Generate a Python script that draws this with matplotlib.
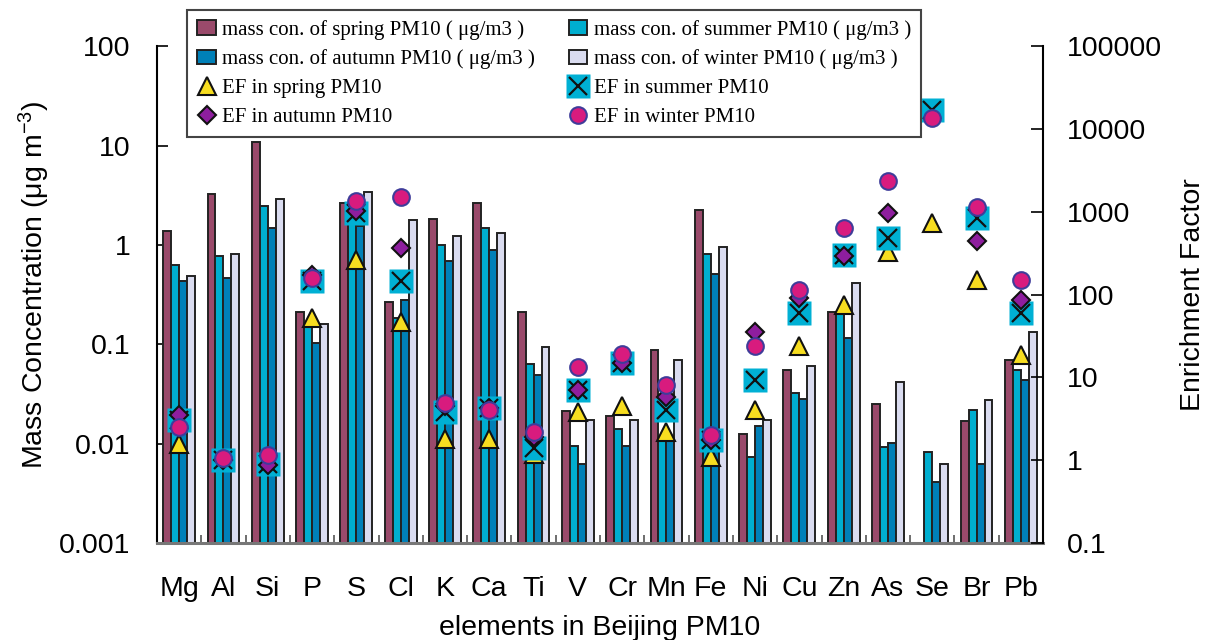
import numpy as np
import matplotlib
matplotlib.use("Agg")
import matplotlib.pyplot as plt
from matplotlib.ticker import FixedLocator, FuncFormatter, NullLocator

plt.rcParams['font.family'] = ['Liberation Sans', 'DejaVu Sans']
plt.rcParams['mathtext.fontset'] = 'custom'
plt.rcParams['mathtext.rm'] = 'Liberation Sans'
plt.rcParams['mathtext.default'] = 'rm'

nan = np.nan

# elements on the x axis
elements = ['Mg', 'Al', 'Si', 'P', 'S', 'Cl', 'K', 'Ca', 'Ti', 'V',
            'Cr', 'Mn', 'Fe', 'Ni', 'Cu', 'Zn', 'As', 'Se', 'Br', 'Pb']

# mass concentrations (ug/m3), left axis
conc_spring = [1.38, 3.3, 10.8, 0.214, 2.68, 0.266, 1.85, 2.68, 0.214, 0.0215,
               0.0188, 0.087, 2.25, 0.0124, 0.055, 0.214, 0.025, nan, 0.0169, 0.07]
conc_summer = [0.63, 0.78, 2.48, 0.165, 2.2, 0.185, 1.0, 1.49, 0.0635, 0.0095,
               0.0142, 0.011, 0.81, 0.0074, 0.0325, 0.206, 0.0093, 0.0082, 0.022, 0.055]
conc_autumn = [0.435, 0.47, 1.5, 0.103, 1.55, 0.28, 0.69, 0.89, 0.049, 0.0062,
               0.0095, 0.012, 0.51, 0.0152, 0.0285, 0.116, 0.0101, 0.0041, 0.0062, 0.044]
conc_winter = [0.49, 0.81, 2.9, 0.16, 3.4, 1.78, 1.23, 1.33, 0.095, 0.0175,
               0.0175, 0.07, 0.95, 0.0175, 0.06, 0.418, 0.0414, 0.0062, 0.0273, 0.132]

# enrichment factors, right axis
ef_spring = [1.59, 1.0, 0.95, 52, 266, 47.5, 1.83, 1.83, 1.2, 3.85,
             4.5, 2.2, 1.1, 4.0, 24, 75, 330, 730, 151, 18.7]
ef_summer = [3.05, 1.0, 0.91, 145, 980, 145, 3.85, 4.23, 1.39, 7.05,
             14.9, 4.03, 1.75, 9.3, 60, 305, 485, 17000, 855, 60]
ef_autumn = [3.5, 1.0, 0.87, 175, 1030, 369, 4.5, 4.3, 1.9, 7.0,
             14.9, 5.75, 1.75, 35.9, 91, 290, 980, nan, 443, 87]
ef_winter = [2.53, 1.05, 1.15, 159, 1350, 1500, 4.87, 4.03, 2.2, 13.5,
             19.2, 8.1, 2.0, 24, 115, 645, 2380, 13500, 1150, 151]

left_ticks = [0.001, 0.01, 0.1, 1, 10, 100]
right_ticks = [0.1, 1, 10, 100, 1000, 10000, 100000]

c_spring = '#9A4A6B'
c_summer = '#00AECF'
c_autumn = '#0080B8'
c_winter = '#DADCF0'

x = np.arange(len(elements))
w = 0.18
fs = 20.5

fig = plt.figure(figsize=(12.13, 6.4), dpi=100)
ax = fig.add_axes([157/1213, 1 - 543/640, (1043 - 157)/1213, (543 - 46.5)/640])

bar_kw = dict(width=w, bottom=0.001, edgecolor='#222222', linewidth=1.4, zorder=2)
b1 = ax.bar(x - 0.27, np.array(conc_spring) - 0.001, color=c_spring, **bar_kw)
b2 = ax.bar(x - 0.09, np.array(conc_summer) - 0.001, color=c_summer, **bar_kw)
b3 = ax.bar(x + 0.09, np.array(conc_autumn) - 0.001, color=c_autumn, **bar_kw)
b4 = ax.bar(x + 0.27, np.array(conc_winter) - 0.001, color=c_winter, **bar_kw)

ax.set_yscale('log')
ax.set_ylim(0.001, 100)
ax.set_xlim(-0.5, len(elements) - 0.5)
ax.yaxis.set_major_locator(FixedLocator(left_ticks))
ax.yaxis.set_minor_locator(NullLocator())
ax.yaxis.set_major_formatter(FuncFormatter(lambda v, p: '{:g}'.format(v)))
ax.tick_params(axis='y', direction='in', length=8, width=1.2, pad=19, labelsize=fs)

ax.set_xticks(x)
ax.set_xticklabels(elements)
ax.set_xticks(np.arange(0.5, len(elements) - 1, 1.0), minor=True)
ax.tick_params(axis='x', which='major', length=0, pad=24, labelsize=fs)
ax.tick_params(axis='x', which='minor', direction='in', length=6, width=1.2, color='#555555')

ax.spines['top'].set_visible(False)
ax.spines['right'].set_visible(False)
ax.spines['left'].set_linewidth(1.5)
ax.spines['bottom'].set_color('#777777')
ax.spines['bottom'].set_linewidth(2.2)

ax.set_ylabel('Mass Concentration (μg m$^{-3}$)', fontsize=fs)
ax.yaxis.set_label_coords(-0.118, 0.52)
ax.set_xlabel('elements in Beijing PM10', fontsize=fs, labelpad=9)

# enrichment factors on the twin axis
ax2 = ax.twinx()
ax2.set_yscale('log')
ax2.set_ylim(0.1, 100000)
ax2.yaxis.set_major_locator(FixedLocator(right_ticks))
ax2.yaxis.set_minor_locator(NullLocator())
ax2.yaxis.set_major_formatter(FuncFormatter(lambda v, p: '{:g}'.format(v)))
ax2.tick_params(axis='y', direction='in', length=9, width=1.2, pad=17, labelsize=fs)
ax2.spines['top'].set_visible(False)
ax2.spines['left'].set_visible(False)
ax2.spines['bottom'].set_visible(False)
ax2.spines['right'].set_linewidth(1.5)
ax2.set_ylabel('Enrichment Factor', fontsize=fs, labelpad=13)

m_sp, = ax2.plot(x, ef_spring, ls='none', marker='^', ms=13, mfc='#F7DD20',
                 mec='#111111', mew=1.5, zorder=3)
m_su_box, = ax2.plot(x, ef_summer, ls='none', marker='s', ms=17, mfc='#00B0D4',
                     mec='none', zorder=4)
m_su_x, = ax2.plot(x, ef_summer, ls='none', marker='x', ms=13, mec='#111111',
                   mew=1.6, zorder=5)
m_au, = ax2.plot(x, ef_autumn, ls='none', marker='D', ms=9.5, mfc='#8E1E9E',
                 mec='#111111', mew=1.5, zorder=6)
m_wi, = ax2.plot(x, ef_winter, ls='none', marker='o', ms=12, mfc='#D81B7E',
                 mec='#3F3C9A', mew=1.5, zorder=7)

handles = [b1, b3, m_sp, m_au, b2, b4, (m_su_box, m_su_x), m_wi]
labels = ['mass con. of spring PM10 ( μg/m3 )',
          'mass con. of autumn PM10 ( μg/m3 )',
          'EF in spring PM10',
          'EF in autumn PM10',
          'mass con. of summer PM10 ( μg/m3 )',
          'mass con. of winter PM10 ( μg/m3 )',
          'EF in summer PM10',
          'EF in winter PM10']
leg = ax2.legend(handles, labels, ncol=2, loc='upper left',
                 bbox_to_anchor=(187/1213, 1 - 9.5/640), bbox_transform=fig.transFigure,
                 prop={'family': 'Liberation Serif', 'size': 15},
                 frameon=True, fancybox=False, framealpha=1, edgecolor='#444444',
                 handlelength=0.9, handletextpad=0.3, columnspacing=1.6,
                 labelspacing=0.45, borderpad=0.5, borderaxespad=0)
leg.get_frame().set_linewidth(1.5)
leg.set_zorder(10)

fig.savefig('out.png', dpi=100)
